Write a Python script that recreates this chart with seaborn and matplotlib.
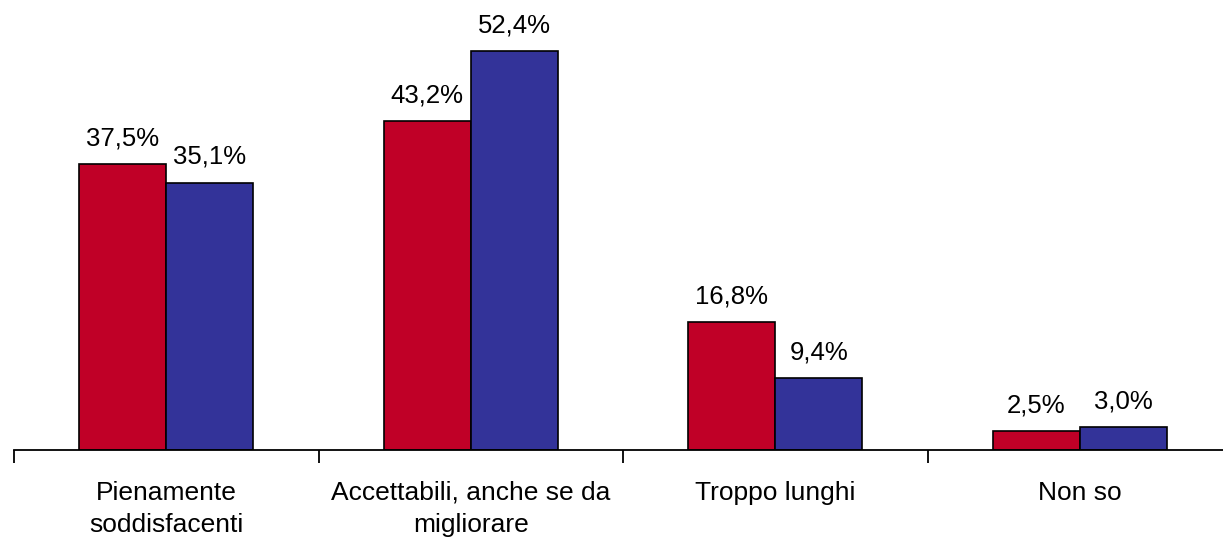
import matplotlib
matplotlib.use("Agg")
import matplotlib.pyplot as plt
import seaborn as sns
import pandas as pd

categories = ["Pienamente\nsoddisfacenti", "Accettabili, anche se da\nmigliorare",
              "Troppo lunghi", "Non so"]
series_names = ["A", "B"]
values_a = [37.5, 43.2, 16.8, 2.5]
values_b = [35.1, 52.4, 9.4, 3.0]
colors = ["#C00027", "#333399"]

df = pd.DataFrame({
    "categoria": categories * 2,
    "serie": [series_names[0]] * 4 + [series_names[1]] * 4,
    "valore": values_a + values_b,
})

sns.set_theme(style="white")
plt.rcParams["font.family"] = ["Liberation Sans", "DejaVu Sans"]

W, H = 1223, 537
fig = plt.figure(figsize=(W / 100, H / 100), dpi=100)
ax = fig.add_axes([14 / W, 87 / H, 1218 / W, 450 / H])

sns.barplot(data=df, x="categoria", y="valore", hue="serie", order=categories,
            hue_order=series_names, palette=colors, width=0.572, gap=0,
            edgecolor="black", linewidth=1.2, saturation=1, legend=False, ax=ax)

for cont in ax.containers:
    ax.bar_label(cont, labels=[f"{v:.1f}%".replace(".", ",") for v in cont.datavalues],
                 padding=10, fontsize=18.5, color="black")

ax.set_xlim(-0.5, 3.5)
ax.set_ylim(0, 59.1)
ax.set_xlabel("")
ax.set_ylabel("")
ax.set_yticks([])
for s in ["left", "top", "right"]:
    ax.spines[s].set_visible(False)
ax.spines["bottom"].set_color("black")
ax.spines["bottom"].set_linewidth(1.3)

ax.set_xticks(range(len(categories)))
ax.set_xticklabels(categories, fontsize=19, linespacing=1.42)
ax.set_xticks([i - 0.5 for i in range(len(categories) + 1)], minor=True)
ax.tick_params(axis="x", which="major", length=0, pad=22, colors="black")
ax.tick_params(axis="x", which="minor", bottom=True, length=9, width=1.3, color="black", direction="out")

fig.savefig("out.png", dpi=100)
